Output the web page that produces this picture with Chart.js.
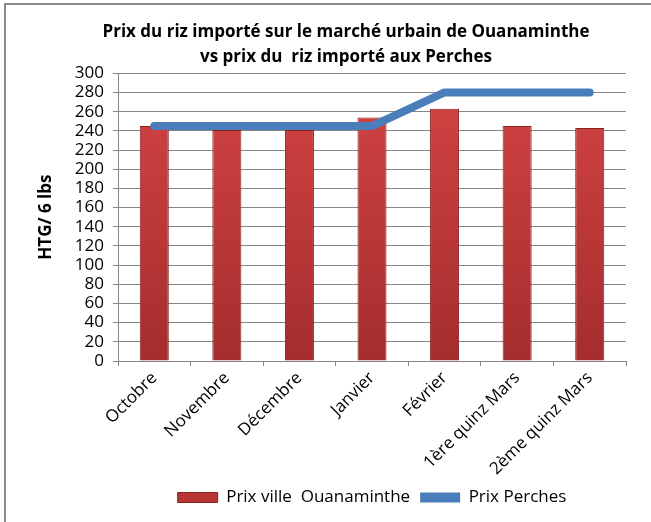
<!DOCTYPE html>
<html>
<head>
<meta charset="utf-8">
<script src="https://cdn.jsdelivr.net/npm/chart.js@4"></script>
<style>
  html, body { margin: 0; padding: 0; background: #fff; }
  #wrap { position: relative; width: 651px; height: 522px; }
  #frame { position: absolute; left: 4px; top: 3px; width: 660px; height: 540px;
           border-left: 2px solid #8a8a8a; border-top: 2px solid #8a8a8a; }
  canvas { position: absolute; left: 0; top: 0; }
</style>
</head>
<body>
<div id="wrap">
  <div id="frame"></div>
  <canvas id="chart" width="651" height="522"></canvas>
</div>
<script>
const categories = ['Octobre', 'Novembre', 'Décembre', 'Janvier', 'Février', '1ère quinz Mars', '2ème quinz Mars'];
const prixVille = [245, 241, 241, 254, 263, 245, 243];
const prixPerches = [245, 245, 245, 245, 280, 280, 280];
const yTicks = [0, 20, 40, 60, 80, 100, 120, 140, 160, 180, 200, 220, 240, 260, 280, 300];

const font = '"Open Sans", sans-serif';

function barFill(context) {
  const chart = context.chart;
  const area = chart.chartArea;
  if (!area) return '#bf3a3a';
  const g = chart.ctx.createLinearGradient(0, area.top, 0, area.bottom);
  g.addColorStop(0, '#d44444');
  g.addColorStop(1, '#a52d2d');
  return g;
}

// the title in the original sits a bit right of the canvas centre
const shiftTitle = {
  id: 'shiftTitle',
  afterLayout(chart) {
    const t = chart.titleBlock;
    if (t) { t.left += 15; t.right += 15; }
  }
};

new Chart(document.getElementById('chart'), {
  type: 'bar',
  data: {
    labels: categories,
    datasets: [
      {
        label: 'Prix ville  Ouanaminthe',
        data: prixVille,
        backgroundColor: barFill,
        borderColor: '#8a2222',
        borderWidth: 1,
        barPercentage: 0.4,
        categoryPercentage: 1,
        order: 2
      },
      {
        type: 'line',
        label: 'Prix Perches',
        data: prixPerches,
        borderColor: '#4a7ebb',
        backgroundColor: '#4a7ebb',
        borderWidth: 8,
        borderCapStyle: 'round',
        borderJoinStyle: 'round',
        pointRadius: 0,
        tension: 0,
        order: 1
      }
    ]
  },
  plugins: [shiftTitle],
  options: {
    responsive: false,
    animation: false,
    layout: { padding: { left: 36, right: 25, top: 0, bottom: 6 } },
    plugins: {
      tooltip: { enabled: false },
      title: {
        display: true,
        text: ['Prix du riz importé sur le marché urbain de Ouanaminthe', 'vs prix du  riz importé aux Perches'],
        color: '#000',
        font: { family: font, size: 17, weight: 'bold', lineHeight: 1.45 },
        padding: { top: 20, bottom: 4 }
      },
      legend: {
        position: 'bottom',
        fullSize: false,
        labels: {
          color: '#000',
          font: { family: font, size: 17 },
          boxWidth: 40,
          boxHeight: 10,
          padding: 10,
          sort: (a, b) => a.datasetIndex - b.datasetIndex,
          generateLabels: chart => {
            const items = Chart.defaults.plugins.legend.labels.generateLabels(chart);
            items.forEach(it => {
              if (it.datasetIndex === 1) {
                it.lineWidth = 0;
                it.fillStyle = '#4a7ebb';
                it.strokeStyle = '#4a7ebb';
              } else {
                it.fillStyle = '#b83535';
                it.strokeStyle = '#8a2222';
                it.lineWidth = 1;
              }
            });
            return items;
          }
        }
      }
    },
    scales: {
      x: {
        grid: { display: true, drawOnChartArea: false, drawTicks: true, tickLength: 5, color: '#868686', offset: true },
        border: { display: true, color: '#868686' },
        ticks: {
          color: '#000',
          font: { family: font, size: 17 },
          autoSkip: false,
          minRotation: 45,
          maxRotation: 45,
          padding: 2
        },
        afterFit: scale => { scale.height = 118; }
      },
      y: {
        min: 0,
        max: 300,
        afterBuildTicks: scale => { scale.ticks = yTicks.map(v => ({ value: v })); },
        grid: { color: '#868686', tickLength: 5 },
        border: { display: true, color: '#868686' },
        ticks: {
          color: '#000',
          font: { family: font, size: 17 },
          autoSkip: false,
          padding: 9
        },
        title: {
          display: true,
          text: 'HTG/ 6 lbs',
          color: '#000',
          font: { family: font, size: 17, weight: 'bold' },
          padding: 0
        },
        afterFit: scale => { scale.width = 82; }
      }
    }
  }
});
</script>
</body>
</html>
